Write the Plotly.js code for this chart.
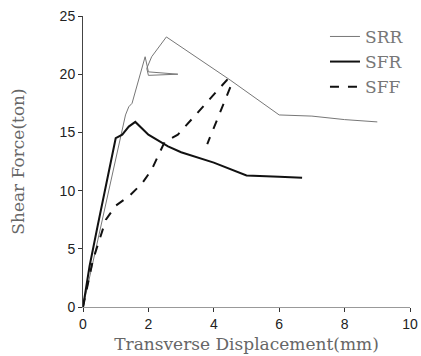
<!DOCTYPE html>
<html><head><meta charset="utf-8">
<script src="https://cdn.plot.ly/plotly-3.0.1.min.js"></script>
<style>body{margin:0;background:#fff}#c{width:421px;height:356px}</style>
</head><body><div id="c"></div>
<script>
const srrX = [0, 0.4, 0.8, 1.1, 1.3, 1.4, 1.5, 1.7, 1.9, 2.0, 2.9, 2.0, 1.95, 2.1, 2.55, 4.5, 6.0, 7.0, 8.0, 9.0];
const srrY = [0, 5, 10, 14, 16.5, 17.2, 17.5, 19.5, 21.5, 20.2, 20.0, 19.9, 20.5, 21.5, 23.2, 19.5, 16.5, 16.4, 16.1, 15.9];
const sfrX = [0, 0.2, 0.45, 0.75, 1.0, 1.2, 1.4, 1.6, 2.0, 2.6, 3.0, 4.0, 5.0, 6.0, 6.7];
const sfrY = [0, 3.5, 7, 11, 14.5, 14.8, 15.5, 15.9, 14.8, 13.8, 13.3, 12.4, 11.3, 11.2, 11.1];
const sffX = [0, 0.3, 0.7, 1.0, 1.4, 1.8, 2.1, 2.5, 2.9, 3.6, 4.4, 4.55, 4.3, 3.8];
const sffY = [0, 4, 7.5, 8.7, 9.5, 10.6, 11.8, 14.2, 14.8, 17, 19.5, 19.2, 17.5, 14];
const names = ['SRR', 'SFR', 'SFF'];
const xTicks = [0, 2, 4, 6, 8, 10];
const yTicks = [0, 5, 10, 15, 20, 25];

const serif = '"DejaVu Serif", "Liberation Serif", serif';
const sans = '"Liberation Sans", Arial, sans-serif';
const traces = [
  {x: srrX, y: srrY, name: names[0], mode: 'lines', line: {color: '#777', width: 1}},
  {x: sfrX, y: sfrY, name: names[1], mode: 'lines', line: {color: '#111', width: 2}},
  {x: sffX, y: sffY, name: names[2], mode: 'lines', line: {color: '#111', width: 2, dash: 'dash'}}
];
const layout = {
  width: 421, height: 356,
  margin: {l: 83, r: 11, t: 16, b: 49},
  paper_bgcolor: '#fff', plot_bgcolor: '#fff',
  showlegend: true,
  legend: {x: 0.74, y: 0.99, xanchor: 'left', yanchor: 'top', bgcolor: 'rgba(0,0,0,0)',
           font: {family: serif, size: 17, color: '#777'}, tracegroupgap: 0, itemwidth: 30},
  xaxis: {range: [0, 10], tickvals: xTicks, ticks: 'outside', ticklen: 4, tickcolor: '#333',
          showgrid: false, zeroline: false, showline: true, linecolor: '#999', linewidth: 1,
          tickfont: {family: sans, size: 14, color: '#222'},
          title: {text: 'Transverse Displacement(mm)', font: {family: serif, size: 17, color: '#666'}, standoff: 7}},
  yaxis: {range: [0, 25], tickvals: yTicks, ticks: 'outside', ticklen: 4, tickcolor: '#333',
          showgrid: false, zeroline: false, showline: true, linecolor: '#444', linewidth: 1,
          tickfont: {family: sans, size: 14, color: '#222'},
          title: {text: 'Shear Force(ton)', font: {family: serif, size: 17, color: '#666'}, standoff: 30}}
};
Plotly.newPlot('c', traces, layout, {displayModeBar: false, staticPlot: true});
</script></body></html>
